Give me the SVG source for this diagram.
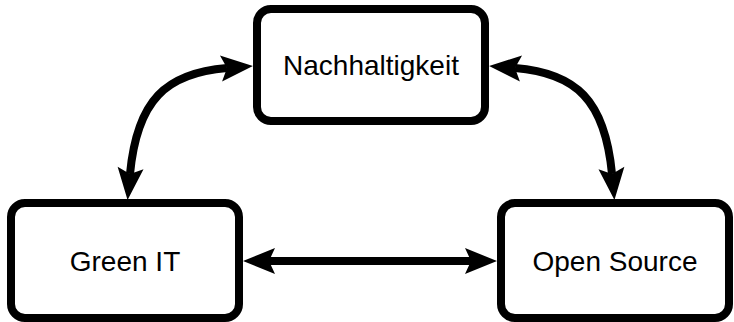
<svg xmlns="http://www.w3.org/2000/svg" width="734" height="322" viewBox="0 0 734 322">
<defs>
<style>
.box{fill:#fff;stroke:#000;stroke-width:8}
.lbl{font-family:"Liberation Sans",Arial,Helvetica,sans-serif;font-size:28px;fill:#000;text-anchor:middle}
.edge{fill:none;stroke:#000;stroke-width:8;marker-start:url(#ah);marker-end:url(#ah)}
</style>
<marker id="ah" markerUnits="userSpaceOnUse" orient="auto-start-reverse" markerWidth="40" markerHeight="40" viewBox="-8 -16 40 32" refX="0" refY="0" overflow="visible">
<path d="M26,0 L-6,-13 L0,0 L-6,13 Z" fill="#000"/>
</marker>
</defs>
<rect width="734" height="322" fill="#fff"/>
<g id="connectors">
<path class="edge" d="M227,68 C166,73 137,100 130,174"/>
<path class="edge" d="M515,68 C576,73 605,100 612,174"/>
<path class="edge" d="M269,261 L471,261"/>
</g>
<g id="nachhaltigkeit">
<rect class="box" x="257" y="9" width="228" height="112" rx="14"/>
<text class="lbl" x="371" y="75">Nachhaltigkeit</text>
</g>
<g id="green-it">
<rect class="box" x="11" y="203" width="228" height="115" rx="14"/>
<text class="lbl" x="125" y="271">Green IT</text>
</g>
<g id="open-source">
<rect class="box" x="501" y="203" width="228" height="115" rx="14"/>
<text class="lbl" x="615" y="271">Open Source</text>
</g>
</svg>
